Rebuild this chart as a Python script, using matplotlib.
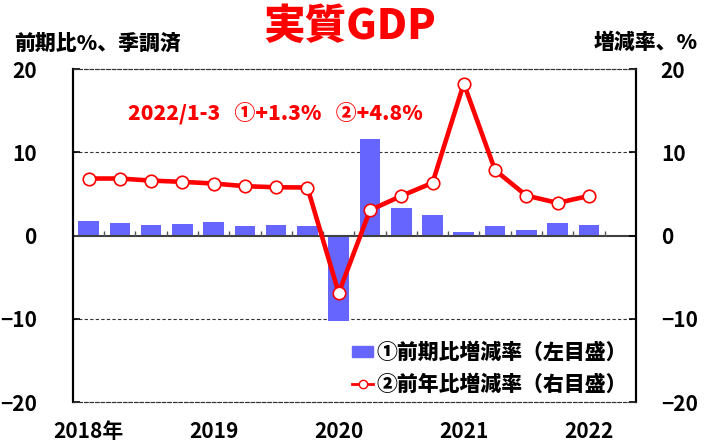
import matplotlib.pyplot as plt
from matplotlib.patches import Patch
from matplotlib.lines import Line2D

plt.rcParams['font.family'] = ['Noto Sans CJK JP', 'DejaVu Sans']

# 2018 Q1 .. 2022 Q1
qoq = [1.76, 1.52, 1.32, 1.44, 1.64, 1.16, 1.32, 1.16, -10.3, 11.57,
       3.36, 2.44, 0.48, 1.16, 0.64, 1.48, 1.28]
yoy = [6.85, 6.85, 6.6, 6.45, 6.25, 5.93, 5.8, 5.77, -6.9, 3.04,
       4.76, 6.33, 18.26, 7.85, 4.8, 3.92, 4.76]
year_labels = ['2018年', '2019', '2020', '2021', '2022']
year_pos = [0, 4, 8, 12, 16]
yticks = [-20, -10, 0, 10, 20]

num_font = ['Liberation Sans Narrow', 'Noto Sans CJK JP']
blue = '#6666ff'
red = '#ff0000'
heavy = 'heavy'

fig = plt.figure(figsize=(7.08, 4.41), dpi=100)
ax = fig.add_axes([0.103, 0.0884, 0.795, 0.755])
ax2 = ax.twinx()

x = list(range(len(qoq)))
ax.bar(x, qoq, width=0.66, color=blue, zorder=2)
ax2.plot(x, yoy, color=red, lw=3.3, marker='o', ms=9, mfc='white',
         mec=red, mew=1.2, zorder=3)

for a in (ax, ax2):
    a.set_ylim(-20, 20)
    a.set_xlim(-0.5, 17.5)
    a.set_yticks(yticks)

# gridlines
for v in (-10, 10):
    ax.axhline(v, color='#333333', lw=0.8, ls=(0, (3, 2)), zorder=1)
ax.axhline(0, color='#404040', lw=1.5, zorder=2.5)
# quarter separator ticks on the zero line
ax.vlines([k + 0.5 for k in range(17)], 0, 0.6, color='#555555', lw=1,
          zorder=2.5)

for a in (ax, ax2):
    a.spines['top'].set_linestyle((0, (3, 2)))
    a.spines['bottom'].set_linestyle((0, (3, 2)))
    a.spines['top'].set_color('#333333')
    a.spines['bottom'].set_color('#333333')
    a.spines['top'].set_linewidth(0.8)
    a.spines['bottom'].set_linewidth(0.8)
    a.spines['left'].set_linewidth(1.5)
    a.spines['right'].set_linewidth(1.5)

ax.tick_params(axis='y', direction='in', length=5, width=1.2, pad=26)
ax2.tick_params(axis='y', direction='in', length=5, width=1.2, pad=18)
ax.set_yticklabels([str(t).replace('-', '−') for t in yticks],
                   family=num_font, fontsize=15, fontweight='bold')
ax2.set_yticklabels([str(t).replace('-', '−') for t in yticks],
                    family=num_font, fontsize=15, fontweight='bold')

ax.set_xticks(year_pos)
ax.set_xticklabels(year_labels, family=num_font, fontsize=15,
                   fontweight='bold')
ax.tick_params(axis='x', length=0, pad=14)

fig.text(0.494, 0.94, '実質GDP', color=red, fontsize=30,
         fontweight=heavy, ha='center', va='center')
fig.text(0.02, 0.902, '前期比%、季調済', fontsize=15, fontweight=heavy,
         ha='left', va='center')
fig.text(0.985, 0.902, '増減率、%', fontsize=15, fontweight=heavy,
         ha='right', va='center')
ax.text(0.098, 0.87, '2022/1-3   ①+1.3%   ②+4.8%', transform=ax.transAxes,
        color=red, fontsize=15, fontweight=heavy, ha='left',
        va='center')

handles = [Patch(color=blue),
           Line2D([], [], color=red, lw=2, marker='o', ms=6, mfc='white',
                  mec=red)]
labels = ['①前期比増減率（左目盛）', '②前年比増減率（右目盛）']
leg = ax2.legend(handles, labels, loc='lower right',
                 bbox_to_anchor=(1.017, -0.035), frameon=False,
                 handlelength=1.0, handleheight=0.5, handletextpad=0.15,
                 labelspacing=0.55,
                 prop={'size': 15, 'weight': heavy})

fig.savefig('out.png', dpi=100)
